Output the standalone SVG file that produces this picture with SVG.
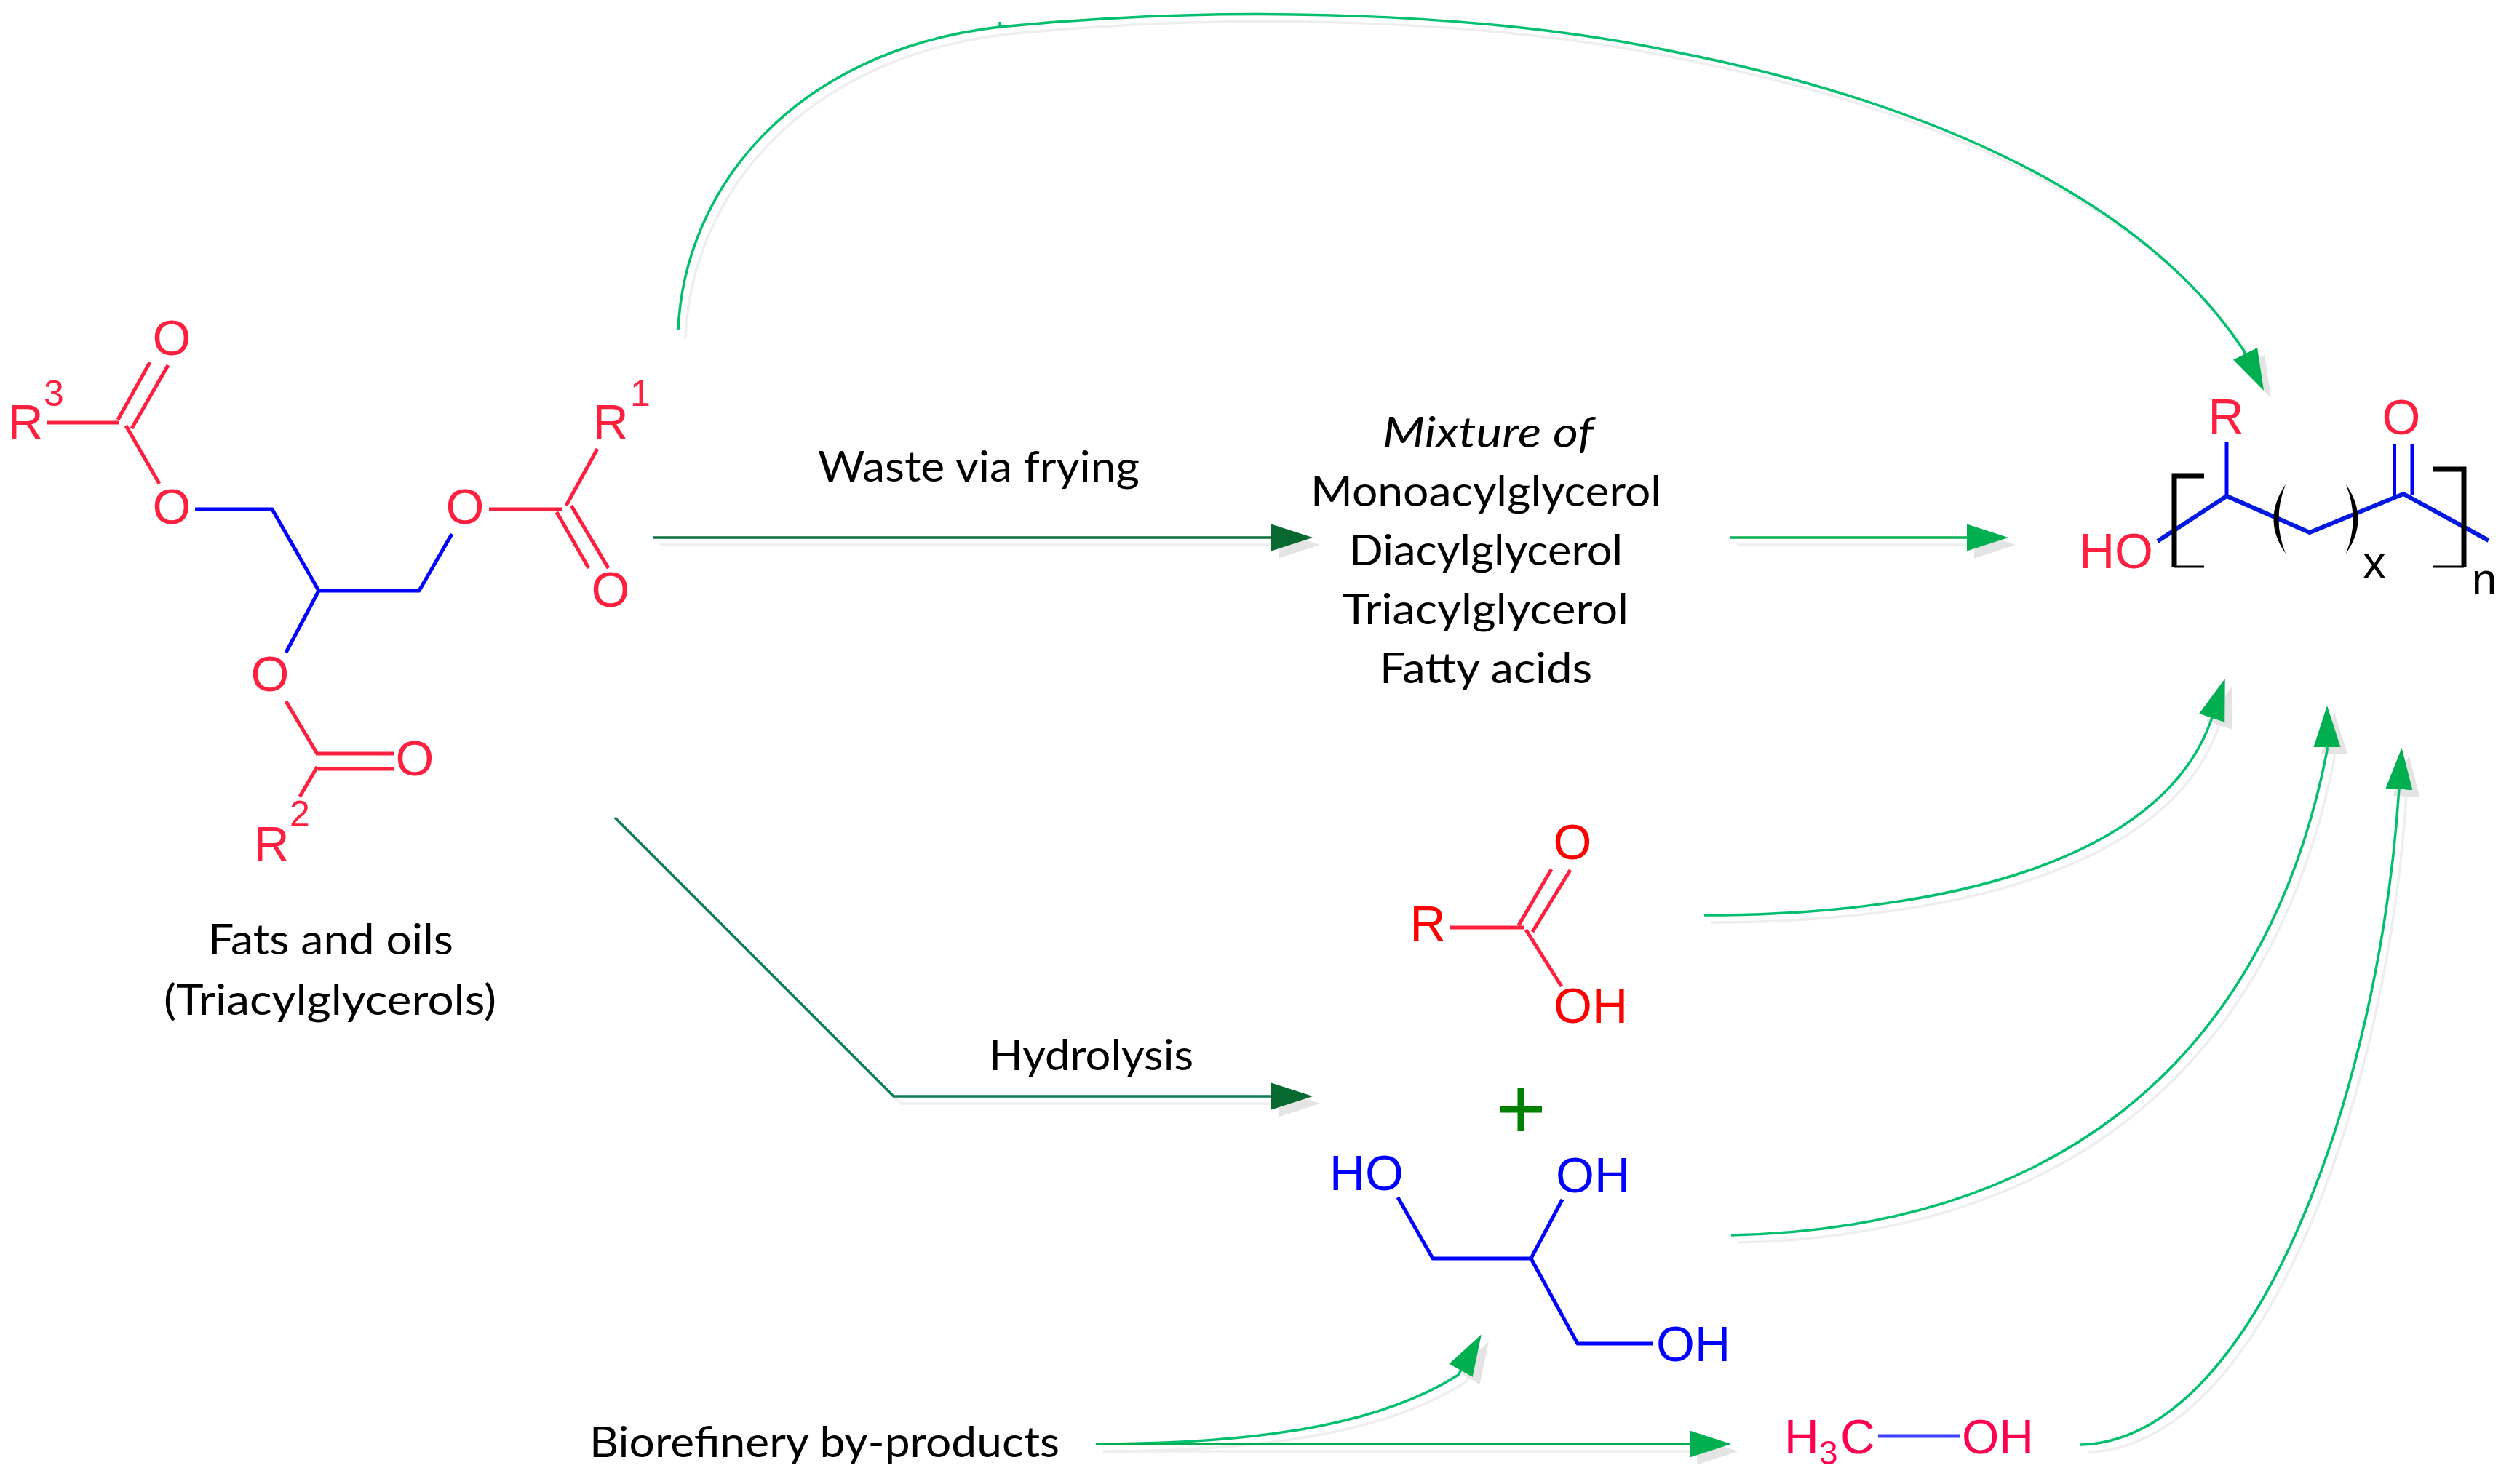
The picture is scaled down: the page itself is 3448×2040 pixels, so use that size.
<svg xmlns="http://www.w3.org/2000/svg" width="3448" height="2040" viewBox="0 0 3448 2040">
<style>
.chem{font-family:"Liberation Sans",Arial,sans-serif;font-size:68px;text-anchor:middle}
.sup{font-size:50px}
.sub{font-size:62px}
.r{fill:#ff1f3f}
.rr{fill:#ff0000}
.b{fill:#0000ff}
.k{fill:#000000}
.m{text-anchor:start;font-size:66px;fill:#ff0050}
.lab{font-family:Lato,"Open Sans",sans-serif;font-size:58px;fill:#000000}
.rb{stroke:#ff1f3f;stroke-width:5;fill:none}
.bb{stroke:#0000ff;stroke-width:5;fill:none;stroke-linejoin:round}
.pb{stroke:#0018e0;stroke-width:6;fill:none}
.br{stroke:#000000;fill:none}
.c{fill:none;stroke-width:3.5}
.s{fill:none;stroke:#eeeeee;stroke-width:3.5}
.g1{stroke:#00bf6f}
.g2{stroke:#00b050}
.g3{stroke:#0b6e3c}
.g4{stroke:#0b7d52}
</style>
<defs>
<marker id="hb" markerUnits="userSpaceOnUse" markerWidth="58" markerHeight="40" refX="1" refY="20" orient="auto"><path d="M0 1.5L57 20L0 38.5Z" fill="#00b050"/></marker>
<marker id="hd" markerUnits="userSpaceOnUse" markerWidth="58" markerHeight="40" refX="1" refY="20" orient="auto"><path d="M0 1.5L57 20L0 38.5Z" fill="#07692f"/></marker>
<marker id="hs" markerUnits="userSpaceOnUse" markerWidth="58" markerHeight="40" refX="1" refY="20" orient="auto"><path d="M0 1.5L57 20L0 38.5Z" fill="#e4e4e4"/></marker>
</defs>
<rect width="3448" height="2040" fill="#ffffff"/>

<g id="connector-shadows" transform="translate(10 10)">
<path class="s" d="M932 454C940 260 1090 70 1374 37"/>
<path class="s" marker-end="url(#hs)" d="M1374 37C1700 5 2050 18 2300 71C2600 130 2930 250 3083 481L3086 487"/>
<path class="s" marker-end="url(#hs)" d="M897 739H1748"/>
<path class="s" marker-end="url(#hs)" d="M2377 739H2704"/>
<path class="s" marker-end="url(#hs)" d="M845 1124L1228 1507H1748"/>
<path class="s" marker-end="url(#hs)" d="M2342 1258C2680 1258 2970 1180 3038 992L3040 986"/>
<path class="s" marker-end="url(#hs)" d="M2379 1698C2800 1690 3110 1480 3198 1032V1026"/>
<path class="s" marker-end="url(#hs)" d="M2859 1986C3100 1980 3270 1500 3297 1084"/>
<path class="s" marker-end="url(#hs)" d="M1506 1985C1760 1985 1910 1950 2004 1890L2008 1883"/>
<path class="s" marker-end="url(#hs)" d="M1506 1985H2323"/>
</g>

<g id="connectors">
<path class="c g1" d="M932 454C940 260 1090 70 1374 37M1374 30V38"/>
<path class="c g1" marker-end="url(#hb)" d="M1374 37C1700 5 2050 18 2300 71C2600 130 2930 250 3083 481L3086 487"/>
<path class="c g3" marker-end="url(#hd)" d="M897 739H1748"/>
<path class="c g2" marker-end="url(#hb)" d="M2377 739H2704"/>
<path class="c g4" marker-end="url(#hd)" d="M845 1124L1228 1507H1748"/>
<path class="c g1" marker-end="url(#hb)" d="M2342 1258C2680 1258 2970 1180 3038 992L3040 986"/>
<path class="c g1" marker-end="url(#hb)" d="M2379 1698C2800 1690 3110 1480 3198 1032V1026"/>
<path class="c g1" marker-end="url(#hb)" d="M2859 1986C3100 1980 3270 1500 3297 1084"/>
<path class="c g1" marker-end="url(#hb)" d="M1506 1985C1760 1985 1910 1950 2004 1890L2008 1883"/>
<path class="c g2" marker-end="url(#hb)" d="M1506 1985H2323"/>
</g>

<g id="triacylglycerol">
<path class="rb" d="M65 581H163M162 577L206 498M181 589L231 502M173 585L219 665M672 700H773M778 695L821 617M765 704L809 781M785 695L836 781M393 964L437 1038M437 1036H541M437 1057H541M436 1054L412 1095"/>
<path class="bb" d="M268 700H374L438 812H576L621 734M438 812L393 897"/>
<text class="chem r" x="35" y="604">R</text><text class="chem r sup" x="74" y="558">3</text>
<text class="chem r" x="236" y="488">O</text>
<text class="chem r" x="236" y="720">O</text>
<text class="chem r" x="639" y="720">O</text>
<text class="chem r" x="839" y="604">R</text><text class="chem r sup" x="880" y="558">1</text>
<text class="chem r" x="839" y="834">O</text>
<text class="chem r" x="371" y="950">O</text>
<text class="chem r" x="570" y="1066">O</text>
<text class="chem r" x="373" y="1184">R</text><text class="chem r sup" x="412" y="1136">2</text>
</g>
<g id="label-fats">
<text class="lab" x="286" y="1312" textLength="337" lengthAdjust="spacingAndGlyphs">Fats and oils</text>
<text class="lab" x="225" y="1395" textLength="457" lengthAdjust="spacingAndGlyphs">(Triacylglycerols)</text>
</g>
<g id="label-waste"><text class="lab" x="1124" y="662" textLength="442" lengthAdjust="spacingAndGlyphs">Waste via frying</text></g>
<g id="label-mixture">
<text class="lab" x="1900" y="615" textLength="290" lengthAdjust="spacingAndGlyphs" font-style="italic">Mixture of</text>
<text class="lab" x="1801" y="696" textLength="482" lengthAdjust="spacingAndGlyphs">Monoacylglycerol</text>
<text class="lab" x="1854" y="777" textLength="376" lengthAdjust="spacingAndGlyphs">Diacylglycerol</text>
<text class="lab" x="1845" y="858" textLength="393" lengthAdjust="spacingAndGlyphs">Triacylglycerol</text>
<text class="lab" x="1896" y="939" textLength="292" lengthAdjust="spacingAndGlyphs">Fatty acids</text>
</g>
<g id="polymer">
<path class="pb" d="M2965 744L3060 682L3174 732L3303 679L3420 743"/>
<path class="bb" d="M3060 608V682"/>
<path class="bb" d="M3290.500 610V682M3315 610V680"/>
<path class="br" stroke-width="7" d="M3029 654H2988V780"/>
<path class="br" stroke-width="3" d="M2988 779H3029M3343 779H3386"/>
<path class="br" stroke-width="7" d="M3343 645H3386V780"/>
<path d="M3141 666Q3108 714 3141 761Q3122 714 3141 666ZM3224 666Q3257 714 3224 761Q3243 714 3224 666Z" fill="#000000"/>
<text class="chem r" x="3059" y="596">R</text>
<text class="chem r" x="3300" y="597">O</text>
<text class="chem r" x="2908" y="781">HO</text>
<text class="chem k sub" x="3263" y="794">x</text>
<text class="chem k sub" x="3414" y="817">n</text>
</g>
<g id="fatty-acid">
<path class="rb" d="M1993 1275H2095M2087 1272L2132 1195M2106 1281L2158 1196M2097 1278L2146 1356"/>
<text class="chem rr" x="1962" y="1293">R</text>
<text class="chem rr" x="2161" y="1181">O</text>
<text class="chem rr" x="2186" y="1406">OH</text>
</g>
<g id="label-hydrolysis"><text class="lab" x="1359" y="1471" textLength="281" lengthAdjust="spacingAndGlyphs">Hydrolysis</text></g>
<g id="plus"><path d="M2085.500 1495H2095V1520.500H2119V1529.500H2095V1555H2085.500V1529.500H2061V1520.500H2085.500Z" fill="#008000"/></g>
<g id="glycerol">
<path class="bb" d="M1921 1646L1969 1730H2104L2147 1649M2104 1730L2168 1847H2272"/>
<text class="chem b" x="1878" y="1636">HO</text>
<text class="chem b" x="2189" y="1639">OH</text>
<text class="chem b" x="2327" y="1871">OH</text>
</g>
<g id="label-biorefinery"><text class="lab" x="810" y="2003" textLength="646" lengthAdjust="spacingAndGlyphs">Biorefinery by-products</text></g>
<g id="methanol">
<path d="M2581 1974H2693" stroke="#4040ff" stroke-width="5" fill="none"/>
<text class="chem m" x="2452" y="1998">H</text>
<text class="chem m" style="font-size:46px" x="2500" y="2013">3</text>
<text class="chem m" x="2529" y="1998">C</text>
<text class="chem m" x="2696" y="1998">OH</text>
</g>
</svg>
